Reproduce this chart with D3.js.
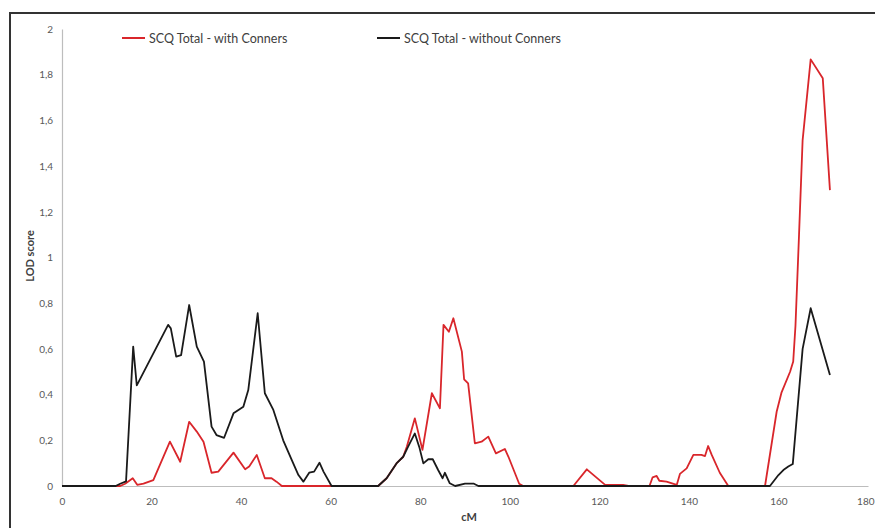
<!DOCTYPE html>
<html><head><meta charset="utf-8">
<script src="https://cdn.jsdelivr.net/npm/d3@7"></script>
<style>body{margin:0;background:#fff}svg{display:block}</style>
</head><body>
<svg id="c" width="875" height="528"></svg>
<script>
const xTicks = [0,20,40,60,80,100,120,140,160,180];
const yTicks = [0,0.2,0.4,0.6,0.8,1,1.2,1.4,1.6,1.8,2];
const seriesNames = ["SCQ Total - with Conners","SCQ Total - without Conners"];
const seriesColors = ["#d9262b","#1a1a1a"];
// [cM, LOD]
const withConners = [[0,0],[13,0],[14.1,0.01],[15.8,0.034],[16.8,0.005],[18.2,0.01],[20.4,0.026],[24.1,0.194],[26.4,0.106],[28.4,0.281],[30.1,0.238],[31.6,0.194],[33.4,0.058],[34.9,0.063],[38.3,0.146],[40.9,0.073],[41.8,0.085],[43.5,0.136],[45.3,0.034],[46.8,0.034],[47.9,0.019],[49.1,0],[70.6,0],[72.5,0.034],[74.7,0.099],[76.2,0.128],[77.0,0.172],[78.8,0.296],[80.5,0.158],[82.6,0.406],[84.4,0.34],[85.2,0.705],[86.4,0.675],[87.4,0.734],[89.3,0.588],[89.8,0.467],[90.7,0.449],[92.2,0.187],[93.7,0.194],[95.2,0.216],[96.9,0.143],[98.9,0.162],[99.7,0.128],[102.1,0.01],[103,0],[114.2,0],[117.2,0.073],[121.3,0.005],[125.3,0.005],[126.5,0],[131.2,0],[131.9,0.038],[132.8,0.044],[133.4,0.023],[135,0.019],[137.3,0.005],[138,0.053],[139.5,0.077],[141,0.136],[142.8,0.136],[143.6,0.131],[144.3,0.175],[145.1,0.136],[146.9,0.058],[148.8,0],[157,0],[159.6,0.325],[160.7,0.41],[162.6,0.5],[163.3,0.545],[163.8,0.7],[164.6,1.1],[165.4,1.514],[167.2,1.867],[169.9,1.784],[171.5,1.295]];
const withoutConners = [[0,0],[12,0],[13,0.01],[14.3,0.02],[15.9,0.61],[16.7,0.44],[23.7,0.705],[24.3,0.69],[25.5,0.566],[26.6,0.573],[28.4,0.792],[30.1,0.61],[31.7,0.544],[33.4,0.26],[34.5,0.223],[36.2,0.211],[38.3,0.318],[40.5,0.347],[41.6,0.42],[43.7,0.756],[45.3,0.406],[47.2,0.333],[49.4,0.2],[51.3,0.114],[52.8,0.048],[53.9,0.019],[55.2,0.058],[56.3,0.063],[57.5,0.102],[58.4,0.063],[60.2,0],[70.6,0],[72.5,0.034],[74.7,0.099],[76.2,0.128],[77.3,0.172],[78.8,0.23],[79.8,0.17],[80.7,0.099],[81.8,0.117],[82.8,0.117],[84.0,0.07],[85.0,0.034],[85.5,0.058],[86.6,0.012],[87.8,0],[90,0.01],[92,0.01],[93,0],[158.1,0],[160,0.048],[161.1,0.07],[162.2,0.085],[163.2,0.096],[165.4,0.6],[167.2,0.778],[171.5,0.486]];

const svg = d3.select("#c");
const m = {l:62, t:29, r:7, b:42};
const W = 875, H = 528;
const x = d3.scaleLinear().domain([0,180]).range([m.l, W-m.r]);
const y = d3.scaleLinear().domain([0,2]).range([H-m.b, m.t]);
const loc = d3.formatLocale({decimal:",", thousands:".", grouping:[3], currency:["",""]});
const fmt = loc.format("~g");
const font = "Lato, 'Open Sans', sans-serif";

// frame
svg.append("rect").attr("x",10).attr("y",13).attr("width",880).attr("height",540)
  .attr("fill","none").attr("stroke","#333").attr("stroke-width",2);

// axes
const gx = svg.append("g").attr("transform",`translate(0,${y(0)})`)
  .call(d3.axisBottom(x).tickValues(xTicks).tickSize(0).tickPadding(12).tickFormat(fmt));
const gy = svg.append("g").attr("transform",`translate(${m.l},0)`)
  .call(d3.axisLeft(y).tickValues(yTicks).tickSize(0).tickPadding(9).tickFormat(fmt));
[gx,gy].forEach(g=>{
  g.select(".domain").attr("stroke","#bdbdbd").attr("stroke-width",1.2);
  g.selectAll("text").attr("fill","#595959").style("font-family",font).style("font-size","10px");
});
// keep the last x label inside the window
gx.selectAll(".tick").filter(d=>d===180).select("text").attr("text-anchor","end").attr("dx","6");

svg.append("text").attr("x",(x(0)+x(180))/2+4).attr("y",521).attr("text-anchor","middle")
  .style("font-family",font).style("font-size","11px").style("font-weight","bold").attr("fill","#404040").text("cM");
svg.append("text").attr("transform","translate(34,256) rotate(-90)").attr("text-anchor","middle")
  .style("font-family",font).style("font-size","11px").style("font-weight","bold").attr("fill","#404040").text("LOD score");

// lines
const line = d3.line().x(d=>x(d[0])).y(d=>y(d[1]));
[withConners, withoutConners].forEach((s,i)=>{
  svg.append("path").datum(s).attr("d",line).attr("fill","none")
    .attr("stroke",seriesColors[i]).attr("stroke-width",1.8).attr("stroke-linejoin","round");
});

// legend
const legX = [122, 377];
seriesNames.forEach((n,i)=>{
  const g = svg.append("g").attr("transform",`translate(${legX[i]},38)`);
  g.append("line").attr("x1",0).attr("x2",23).attr("stroke",seriesColors[i]).attr("stroke-width",2);
  g.append("text").attr("x",27).attr("y",4.5).style("font-family",font).style("font-size","12.5px")
    .attr("fill","#404040").text(n);
});
</script>
</body></html>
